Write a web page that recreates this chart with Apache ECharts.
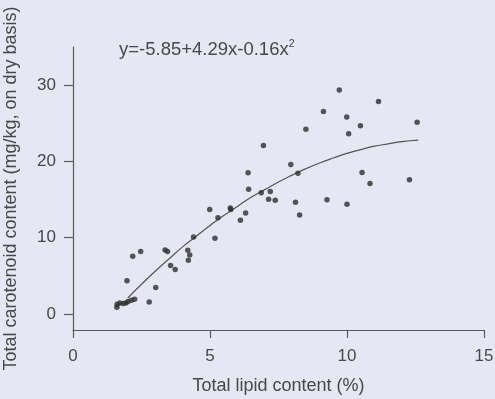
<!DOCTYPE html>
<html>
<head>
<meta charset="utf-8">
<script src="https://cdn.jsdelivr.net/npm/echarts@6/dist/echarts.min.js"></script>
<style>
html,body{margin:0;padding:0;background:#e5e7f4;}
#c{width:495px;height:399px;}
</style>
</head>
<body>
<div id="c"></div>
<script>
// Observed samples: [total lipid %, total carotenoid mg/kg]
const lipid = [9.72, 11.15, 9.14, 9.99, 10.49, 12.56, 8.50, 10.06, 6.95, 7.95,
  8.21, 6.39, 10.55, 10.84, 12.28, 6.41, 6.87, 7.20, 7.14, 7.38,
  8.12, 9.27, 10.00, 8.27, 4.99, 5.74, 5.76, 6.30, 6.11, 5.29,
  5.18, 4.40, 4.19, 4.26, 4.21, 3.36, 3.45, 3.56, 3.73, 2.47,
  2.18, 1.97, 3.02, 2.78, 1.61, 1.71, 1.83, 1.93, 2.01, 2.13,
  2.25, 1.60];
const carotenoid = [29.35, 27.87, 26.55, 25.81, 24.67, 25.15, 24.23, 23.62, 22.09, 19.60,
  18.46, 18.50, 18.55, 17.10, 17.59, 16.36, 15.88, 16.05, 15.05, 14.92,
  14.65, 14.96, 14.39, 12.99, 13.69, 13.90, 13.69, 13.25, 12.29, 12.60,
  9.93, 10.10, 8.36, 7.74, 7.04, 8.40, 8.18, 6.34, 5.82, 8.18,
  7.57, 4.37, 3.46, 1.57, 1.27, 1.44, 1.36, 1.44, 1.63, 1.80,
  1.93, 0.88];
// Fitted curve
const fitX = [2.0, 2.5, 3, 3.5, 4, 4.5, 5, 5.5, 6, 6.5, 7, 7.5, 8, 8.5, 9, 9.5, 10, 10.5, 11, 11.5, 12, 12.6];
const fitY = [2.1, 3.9, 5.6, 7.2, 8.8, 10.2, 11.6, 12.9, 14.1, 15.3, 16.3, 17.3, 18.2, 19.05, 19.8, 20.45, 21.05, 21.55, 22.0, 22.3, 22.6, 22.8];
const xTicks = [0, 5, 10, 15];
const yTicks = [0, 10, 20, 30];
const equation = 'y=-5.85+4.29x-0.16x';

const font = '"Liberation Sans", Arial, sans-serif';
const txt = '#484848';
const axisCol = '#5a5a5a';

const chart = echarts.init(document.getElementById('c'));
chart.setOption({
  backgroundColor: '#e5e7f4',
  animation: false,
  title: {
    text: '{a|' + equation + '}{s|2}',
    left: 119, top: 39, padding: 0,
    textStyle: {
      fontWeight: 'normal',
      rich: {
        a: {fontFamily: font, fontSize: 18.5, fontWeight: 'normal', color: txt, lineHeight: 20, verticalAlign: 'bottom'},
        s: {fontFamily: font, fontSize: 10.5, fontWeight: 'normal', color: txt, lineHeight: 10, verticalAlign: 'top'}
      }
    }
  },
  grid: {left: 73, right: 11, top: 47, bottom: 69, containLabel: false, outerBoundsMode: 'none'},
  xAxis: {
    type: 'value', min: 0, max: 15, interval: 5,
    name: 'Total lipid content (%)', nameLocation: 'middle', nameGap: 47,
    nameTextStyle: {fontFamily: font, fontSize: 18, color: txt},
    axisLine: {show: true, onZero: false, lineStyle: {color: axisCol, width: 1.2}},
    axisTick: {show: true, inside: false, length: 8, lineStyle: {color: axisCol, width: 1.2}, customValues: xTicks},
    axisLabel: {fontFamily: font, fontSize: 17, color: txt, margin: 18, customValues: xTicks},
    splitLine: {show: false}
  },
  yAxis: {
    type: 'value', min: -2.1, max: 35,
    name: 'Total carotenoid content (mg/kg, on dry basis)', nameLocation: 'middle', nameGap: 53, nameRotate: 90,
    nameTextStyle: {fontFamily: font, fontSize: 18, color: txt},
    axisLine: {show: true, onZero: false, lineStyle: {color: axisCol, width: 1.2}},
    axisTick: {show: true, inside: false, length: 9, lineStyle: {color: axisCol, width: 1.2}, customValues: yTicks},
    axisLabel: {fontFamily: font, fontSize: 17, color: txt, margin: 17, customValues: yTicks},
    splitLine: {show: false}
  },
  series: [
    {
      type: 'line', data: fitX.map((x, i) => [x, fitY[i]]),
      smooth: true, showSymbol: false, symbol: 'none',
      lineStyle: {color: '#555', width: 1.2}, z: 2
    },
    {
      type: 'scatter', data: lipid.map((x, i) => [x, carotenoid[i]]),
      symbol: 'circle', symbolSize: 5.5,
      itemStyle: {color: '#2e2e2e'}, z: 3
    }
  ]
});
</script>
</body>
</html>
